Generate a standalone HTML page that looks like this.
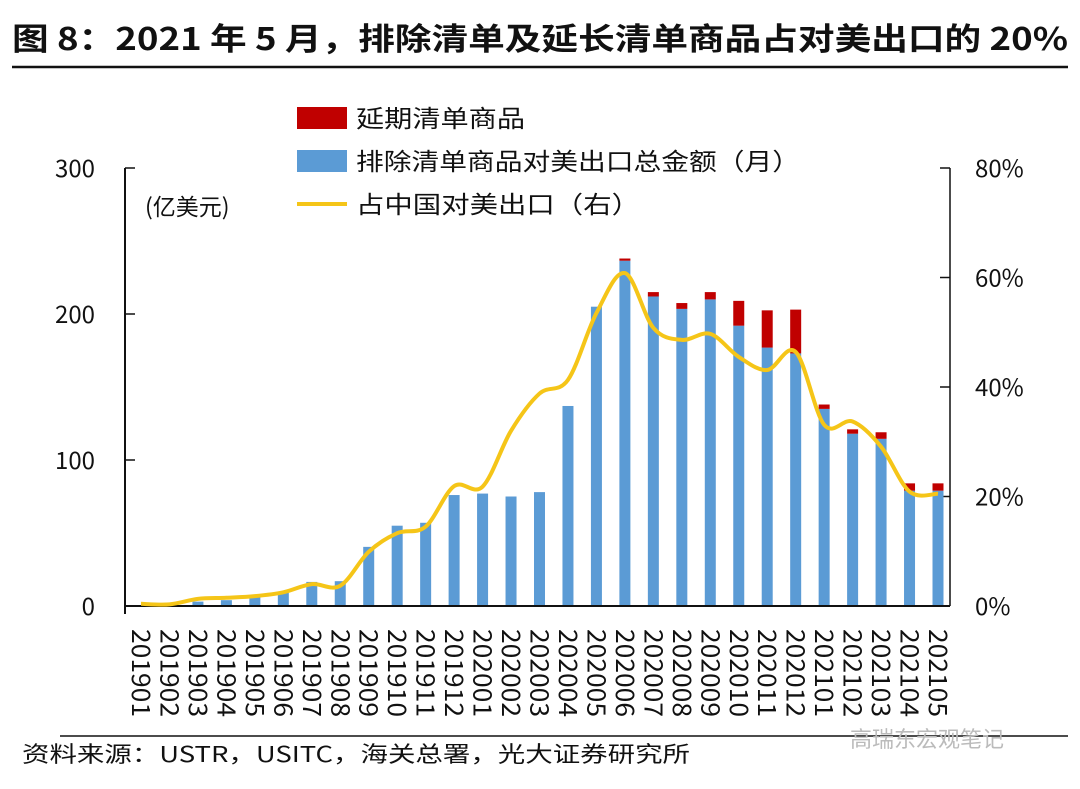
<!DOCTYPE html>
<html><head><meta charset="utf-8">
<style>
html,body{margin:0;padding:0;background:#fff;}
body{width:1080px;height:784px;overflow:hidden;font-family:"Noto Sans CJK SC","Liberation Sans",sans-serif;}
</style></head>
<body>
<svg id="chart" width="1080" height="784" xmlns="http://www.w3.org/2000/svg" style="font-family:'Noto Sans CJK SC','Liberation Sans',sans-serif">
<text x="12" y="50" font-size="31" font-weight="bold" fill="#111" textLength="1056" lengthAdjust="spacingAndGlyphs">图 8：2021 年 5 月，排除清单及延长清单商品占对美出口的 20%</text>
<line x1="12" y1="67" x2="1068" y2="67" stroke="#111" stroke-width="2.5"/>
<line x1="60" y1="736" x2="1068" y2="736" stroke="#111" stroke-width="1.5"/>
<text x="22" y="762" font-size="22" fill="#111" textLength="668" lengthAdjust="spacingAndGlyphs">资料来源：USTR，USITC，海关总署，光大证券研究所</text>
<text x="850" y="747" font-size="22" fill="#bbb">高瑞东宏观笔记</text>
<text x="145" y="215" font-size="23" fill="#111">(亿美元)</text>
<g id="legend">
<rect x="297" y="107" width="50" height="22" fill="#c00000"/>
<text x="356" y="127" font-size="24" fill="#111" textLength="169" lengthAdjust="spacingAndGlyphs">延期清单商品</text>
<rect x="297" y="150" width="50" height="22" fill="#5b9bd5"/>
<text x="356" y="170" font-size="24" fill="#111" textLength="444" lengthAdjust="spacingAndGlyphs">排除清单商品对美出口总金额（月）</text>
<line x1="297" y1="204" x2="347" y2="204" stroke="#f5c518" stroke-width="4"/>
<text x="356" y="213" font-size="24" fill="#111" textLength="284" lengthAdjust="spacingAndGlyphs">占中国对美出口（右）</text>
</g>
<g id="plot"></g>
</svg>
<script>
const categories=["201901","201902","201903","201904","201905","201906","201907","201908","201909","201910","201911","201912","202001","202002","202003","202004","202005","202006","202007","202008","202009","202010","202011","202012","202101","202102","202103","202104","202105"];
const excludedValues=[0.5,0.5,3,4,6,9,16.5,17,40.5,55,57,76,77,75,78,137,205,236.5,212,203.5,210,192,177,173,135,118,114.5,79,79];
const extendedValues=[0,0,0,0,0,0,0,0,0,0,0,0,0,0,0,0,0,1.5,3,4,5,17,25.5,30,3,3,4.5,5,5];
const shareValues=[0.4,0.3,1.3,1.5,1.8,2.5,4,3.7,9.9,13.3,14.5,21.9,21.8,32,38.8,41.3,53.5,60.8,50.8,48.6,49.7,45.5,43.1,46.4,33.1,33.7,29.1,20.9,20.5];
const leftTicks=[0,100,200,300];
const rightTicks=[0,20,40,60,80];

const NS="http://www.w3.org/2000/svg";
const g=document.getElementById('plot');
const X0=125,X1=950,Y0=606,Y1=168;
const first=141,step=(938-141)/28;
function xPos(i){return first+i*step;}
function yL(v){return Y0-(v/300)*(Y0-Y1);}
function yR(p){return Y0-(p/80)*(Y0-Y1);}
function mk(tag,attrs){const e=document.createElementNS(NS,tag);for(const k in attrs)e.setAttribute(k,attrs[k]);g.appendChild(e);return e;}

let e=mk('line',{x1:X0,y1:Y1,x2:X0,y2:Y0+8,stroke:'#111','stroke-width':2});


e=mk('line',{x1:X1,y1:Y1,x2:X1,y2:Y0,stroke:'#111','stroke-width':1.5});


leftTicks.forEach(v=>{
  let t=mk('line',{x1:X0,y1:yL(v),x2:X0+10,y2:yL(v),stroke:'#111','stroke-width':1.5});
  
  
  let l=mk('text',{x:X0-30,y:yL(v)+9,'font-size':24,'text-anchor':'end',fill:'#111'});
  l.textContent=v;
  
  
});
rightTicks.forEach(p=>{
  let t=mk('line',{x1:X1-10,y1:yR(p),x2:X1,y2:yR(p),stroke:'#111','stroke-width':1.5});
  
  
  let l=mk('text',{x:975,y:yR(p)+9,'font-size':24,fill:'#111'});
  l.textContent=p+'%';
  
  
});
const bw=11;
categories.forEach((c,i)=>{
  const x=xPos(i)-bw/2;
  let b=mk('rect',{x:x,y:yL(excludedValues[i]),width:bw,height:Y0-yL(excludedValues[i]),fill:'#5b9bd5'});
  
  
  if(extendedValues[i]>0){
    const top=excludedValues[i]+extendedValues[i];
    let r=mk('rect',{x:x,y:yL(top),width:bw,height:yL(excludedValues[i])-yL(top),fill:'#c00000'});
    
    
  }
  let l=mk('text',{x:0,y:0,'font-size':25,fill:'#111',textLength:88,lengthAdjust:'spacingAndGlyphs',transform:`translate(${xPos(i)-9},629) rotate(90)`});
  l.textContent=c;
  
  
});
e=mk('line',{x1:X0,y1:Y0,x2:X1,y2:Y0,stroke:'#111','stroke-width':2});


const pts=shareValues.map((p,i)=>[xPos(i),yR(p)]);
let d='M'+pts[0][0]+','+pts[0][1];
for(let i=0;i<pts.length-1;i++){
  const p0=pts[Math.max(0,i-1)],p1=pts[i],p2=pts[i+1],p3=pts[Math.min(pts.length-1,i+2)];
  const c1=[p1[0]+(p2[0]-p0[0])/6,p1[1]+(p2[1]-p0[1])/6];
  const c2=[p2[0]-(p3[0]-p1[0])/6,p2[1]-(p3[1]-p1[1])/6];
  d+=` C${c1[0]},${c1[1]} ${c2[0]},${c2[1]} ${p2[0]},${p2[1]}`;
}
e=mk('path',{d:d,fill:'none',stroke:'#f5c518','stroke-width':4,'stroke-linejoin':'round'});


</script>
</body></html>
